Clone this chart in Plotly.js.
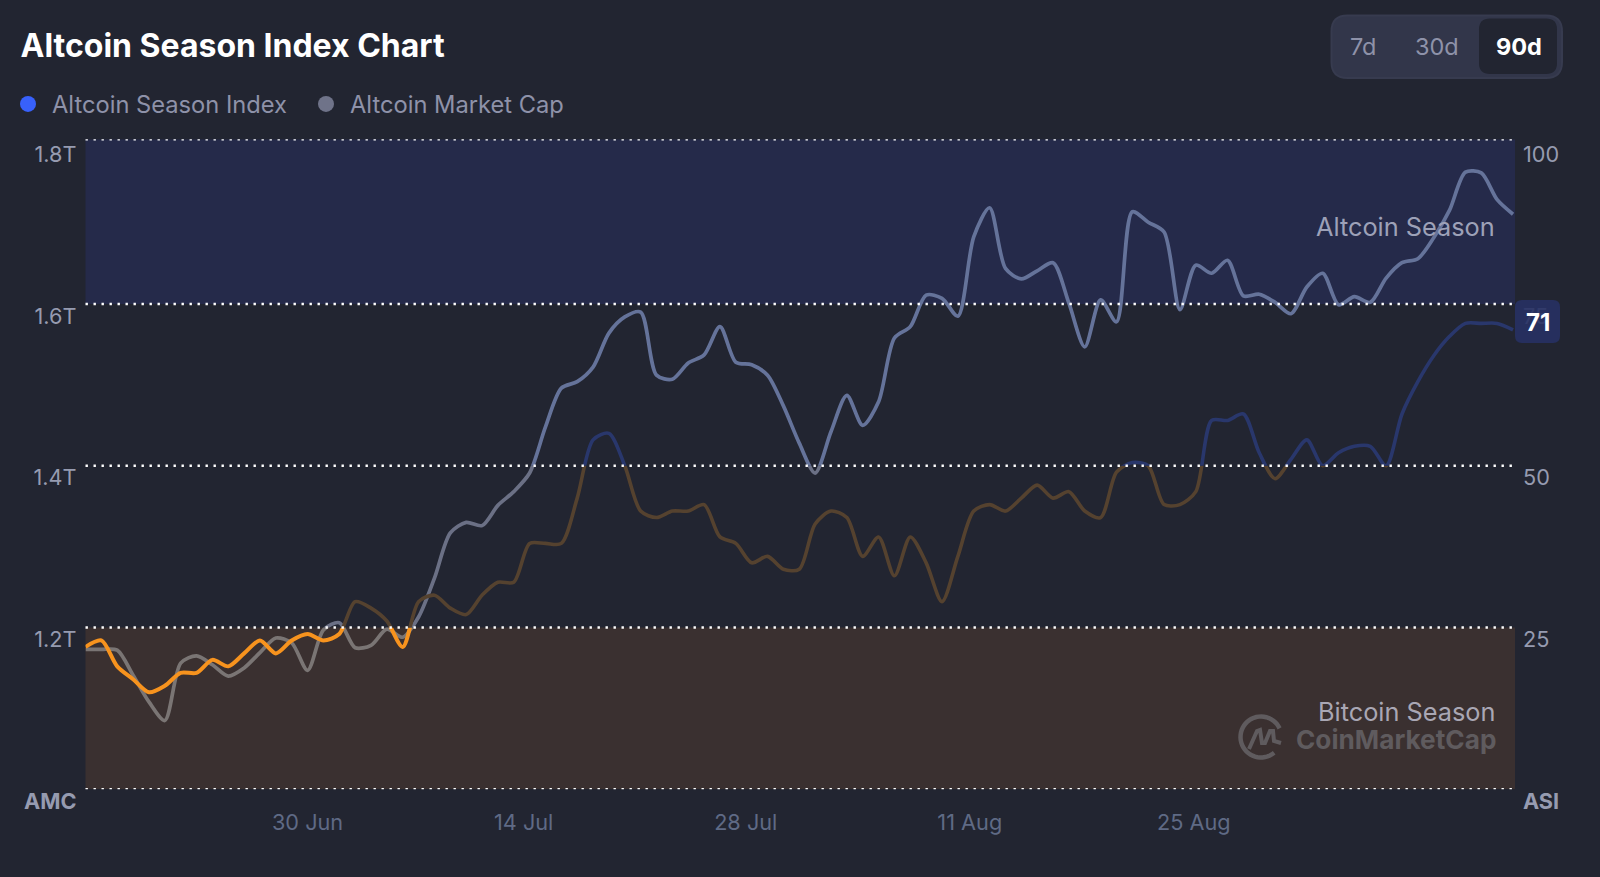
<!DOCTYPE html>
<html>
<head>
<meta charset="utf-8">
<script src="https://cdn.plot.ly/plotly-3.0.1.min.js"></script>
<style>html,body{margin:0;padding:0;background:#222531;overflow:hidden}#chart{width:1600px;height:877px}</style>
</head>
<body>
<div id="chart"></div>
<script>
// ---------- data ----------
const startDate = '2024-06-16';
const marketCapTrillions = [1.173,1.173,1.172,1.141,1.108,1.085,1.156,1.165,1.154,1.140,1.150,1.169,1.187,1.181,1.147,1.197,1.206,1.175,1.178,1.198,1.188,1.213,1.261,1.317,1.330,1.326,1.351,1.368,1.391,1.448,1.496,1.504,1.522,1.564,1.584,1.590,1.512,1.507,1.527,1.537,1.572,1.528,1.525,1.512,1.474,1.428,1.391,1.442,1.487,1.450,1.479,1.558,1.572,1.611,1.607,1.585,1.683,1.719,1.644,1.631,1.641,1.651,1.601,1.547,1.605,1.578,1.714,1.701,1.689,1.593,1.648,1.638,1.654,1.610,1.612,1.602,1.588,1.621,1.638,1.599,1.609,1.602,1.632,1.651,1.656,1.682,1.716,1.763,1.762,1.729,1.711];
const seasonIndex = [22,23,19,17,15,16,18,18,20,19,21,23,21,23,24,23,24,29,28,26,22,29,30,28,27,30,32,32,38,38,38,45,54,55,50,43,42,43,43,44,39,38,35,36,34,34,41,43,42,36,39,33,39,35,29,36,43,44,43,45,47,45,46,43,42,49,50.5,50,44,44,46,57,57,58,52,48,51,54,50,52,53,53,50,58,63,67,70,72,72,72,71];
const leftTickVals = [1.0,1.2,1.4,1.6,1.8];
const leftTickText = ['<b>AMC</b>','1.2T','1.4T','1.6T','1.8T'];
const rightTickVals = [0,25,50,75,100];
const rightTickText = ['<b>ASI</b>','25','50','75','100'];
const dateTickVals = ['2024-06-30','2024-07-13 15:00','2024-07-27 15:00','2024-08-10 18:00','2024-08-24 21:00'];
const dateTickText = ['30 Jun','14 Jul','28 Jul','11 Aug','25 Aug'];
const rangeButtons = ['7d','30d','90d'];
const legendNames = ['Altcoin Season Index','Altcoin Market Cap'];
const latestValue = 71;

// ---------- layout helpers ----------
const W = 1600, H = 877;
const px = v => v / W, py = v => 1 - v / H;
const plotL = 85.5, plotR = 1515, plotT = 139.3, plotB = 789.3;
const asiTop = 100.45, capTop = 1.8036;
const font = 'Inter, "Noto Sans", sans-serif';
const dom = v => py(plotB) + (py(plotT) - py(plotB)) * v / asiTop;
const capAt = v => 1 + (capTop - 1) * v / asiTop;

const dates = seasonIndex.map((_, i) => {
  const d = new Date(startDate + 'T00:00:00Z');
  d.setUTCDate(d.getUTCDate() + i);
  return d.toISOString().slice(0, 10);
});

function roundRect(x0, y0, x1, y1, r) {
  const X = px, Y = py;
  return `M${X(x0 + r)},${Y(y0)} L${X(x1 - r)},${Y(y0)} Q${X(x1)},${Y(y0)} ${X(x1)},${Y(y0 + r)} ` +
    `L${X(x1)},${Y(y1 - r)} Q${X(x1)},${Y(y1)} ${X(x1 - r)},${Y(y1)} L${X(x0 + r)},${Y(y1)} ` +
    `Q${X(x0)},${Y(y1)} ${X(x0)},${Y(y1 - r)} L${X(x0)},${Y(y0 + r)} Q${X(x0)},${Y(y0)} ${X(x0 + r)},${Y(y0)} Z`;
}
function arcPath(cx, cy, r, a0, a1) {
  let s = '';
  for (let k = 0; k <= 40; k++) {
    const a = (a0 + (a1 - a0) * k / 40) * Math.PI / 180;
    s += (k ? 'L' : 'M') + px(cx + r * Math.cos(a)) + ',' + py(cy + r * Math.sin(a)) + ' ';
  }
  return s;
}
function polyPath(pts) {
  return pts.map((p, k) => (k ? 'L' : 'M') + px(p[0]) + ',' + py(p[1])).join(' ');
}

// bands: [low, high, ASI line colour, cap line colour]
const bands = [
  [0, 25, '#f7931e', '#7a7574'],
  [25, 50, '#55422f', '#6b7085'],
  [50, asiTop, '#29376c', '#65739a']
];

const traces = [
  {x: [null], y: [null], name: legendNames[1], type: 'scatter', mode: 'markers', yaxis: 'y',
   marker: {size: 16, color: '#6f7389'}, hoverinfo: 'skip'},
  {x: [null], y: [null], name: legendNames[0], type: 'scatter', mode: 'markers', yaxis: 'y2',
   marker: {size: 16, color: '#3861fb'}, hoverinfo: 'skip'}
];
const layoutAxes = {};
bands.forEach((b, i) => {
  const capId = 3 + i * 2, asiId = 4 + i * 2;
  const hidden = {visible: false, type: 'linear', anchor: 'x', domain: [dom(b[0]), dom(b[1])], fixedrange: true};
  layoutAxes['yaxis' + capId] = Object.assign({range: [capAt(b[0]), capAt(b[1])]}, hidden);
  layoutAxes['yaxis' + asiId] = Object.assign({range: [b[0], b[1]]}, hidden);
  traces.push({x: dates, y: marketCapTrillions, yaxis: 'y' + capId, type: 'scatter', mode: 'lines', showlegend: false,
    line: {color: b[3], width: 3.7, shape: 'spline', smoothing: 0.8}, name: legendNames[1]});
});
bands.forEach((b, i) => {
  traces.push({x: dates, y: seasonIndex, yaxis: 'y' + (4 + i * 2), type: 'scatter', mode: 'lines', showlegend: false,
    line: {color: b[2], width: i === 0 ? 4 : 3.6, shape: 'spline', smoothing: 0.8}, name: legendNames[0]});
});

const dotted = {color: '#ffffff', width: 2.4, dash: '2.4px,5.6px'};
const shapes = [
  {type: 'rect', layer: 'below', xref: 'paper', yref: 'y2', x0: px(plotL), x1: px(plotR), y0: 75, y1: asiTop, fillcolor: '#252a4a', line: {width: 0}},
  {type: 'rect', layer: 'below', xref: 'paper', yref: 'y2', x0: px(plotL), x1: px(plotR), y0: 0, y1: 25, fillcolor: '#3a3030', line: {width: 0}},
  ...[0, 25, 50, 75, asiTop].map(v => ({type: 'line', layer: 'above', xref: 'paper', yref: 'y2', x0: px(plotL), x1: px(plotR - 3), y0: v, y1: v, line: dotted})),
  // range buttons
  {type: 'path', layer: 'above', xref: 'paper', yref: 'paper', path: roundRect(1331.5, 15.5, 1562, 78, 16), fillcolor: '#32364a', line: {color: '#373b4f', width: 2}},
  {type: 'path', layer: 'above', xref: 'paper', yref: 'paper', path: roundRect(1479, 18.5, 1557, 74, 11), fillcolor: '#222531', line: {width: 0}},
  // current value badge
  {type: 'path', layer: 'above', xref: 'paper', yref: 'paper', path: roundRect(1515, 300, 1560, 343, 7), fillcolor: 'rgba(39,49,100,0.9)', line: {width: 0}},
  // watermark logo
  {type: 'path', layer: 'above', xref: 'paper', yref: 'paper', path: arcPath(1261, 737, 20.5, 50, 335), line: {color: '#5f5b5e', width: 4.5}},
  {type: 'path', layer: 'above', xref: 'paper', yref: 'paper', path: polyPath([[1249,749],[1257,731],[1260,730],[1262,743],[1265,743],[1270,731],[1273,731],[1274,741],[1281,743]]), line: {color: '#5f5b5e', width: 4}}
];

const label = (text, x, y, size, color, anchor, extra) => Object.assign({
  text, xref: 'paper', yref: 'paper', x: px(x), y: py(y), xanchor: anchor, yanchor: 'middle', showarrow: false,
  font: {family: font, size, color}
}, extra || {});

const annotations = [
  label(rangeButtons[0], 1363, 46, 23.5, '#8e92a9', 'center'),
  label(rangeButtons[1], 1437, 46, 23.5, '#8e92a9', 'center'),
  label('<b>' + rangeButtons[2] + '</b>', 1519, 46, 23.5, '#ffffff', 'center'),
  label('Altcoin Season', 1497, 226.5, 25.3, '#9da1b8', 'right'),
  label('Bitcoin Season', 1497, 711, 25.3, '#a9a7b4', 'right'),
  label('<b>CoinMarketCap</b>', 1498, 739, 26.2, '#5f5b5e', 'right'),
  label('<b>' + latestValue + '</b>', 1537.5, 322.5, 24, '#ffffff', 'center')
];

const tickFont = {family: font, size: 21.7, color: '#969bb0'};
const layout = Object.assign({
  width: W, height: H,
  paper_bgcolor: '#222531', plot_bgcolor: 'rgba(0,0,0,0)',
  margin: {l: 0, r: 0, t: 0, b: 0, pad: 0},
  title: {text: '<b>Altcoin Season Index Chart</b>', x: px(20.5), xref: 'paper', xanchor: 'left', y: py(46), yref: 'paper', yanchor: 'middle',
    font: {family: font, size: 32, color: '#ffffff'}},
  showlegend: true,
  legend: {orientation: 'h', x: px(4), xanchor: 'left', y: py(104), yanchor: 'middle', traceorder: 'reversed',
    itemwidth: 38, entrywidth: 245, entrywidthmode: 'pixels',
    font: {family: font, size: 23.7, color: '#8e92a9'}, bgcolor: 'rgba(0,0,0,0)', itemclick: false, itemdoubleclick: false},
  hovermode: false,
  xaxis: {type: 'date', domain: [px(plotL), px(plotR)], range: ['2024-06-16', '2024-09-14 03:00'], anchor: 'y',
    tickvals: dateTickVals, ticktext: dateTickText, ticks: '', showgrid: false, showline: false, zeroline: false,
    tickangle: 0, ticklabelstandoff: 18, tickfont: {family: font, size: 21.7, color: '#5f6a85'}, fixedrange: true},
  yaxis: {type: 'linear', domain: [py(plotB), py(plotT)], range: [1, capTop], anchor: 'x', side: 'left',
    tickvals: leftTickVals, ticktext: leftTickText, ticks: '', showgrid: false, showline: false, zeroline: false,
    ticklabelshift: 12, ticklabelstandoff: 8, tickfont: tickFont, fixedrange: true},
  yaxis2: {type: 'linear', domain: [py(plotB), py(plotT)], range: [0, asiTop], overlaying: 'y', anchor: 'x', side: 'right',
    tickvals: rightTickVals, ticktext: rightTickText, ticks: '', showgrid: false, showline: false, zeroline: false,
    ticklabelshift: 12, ticklabelstandoff: 7, tickfont: tickFont, fixedrange: true},
  shapes, annotations
}, layoutAxes);

Plotly.newPlot('chart', traces, layout, {displayModeBar: false, responsive: false});
</script>
</body>
</html>
